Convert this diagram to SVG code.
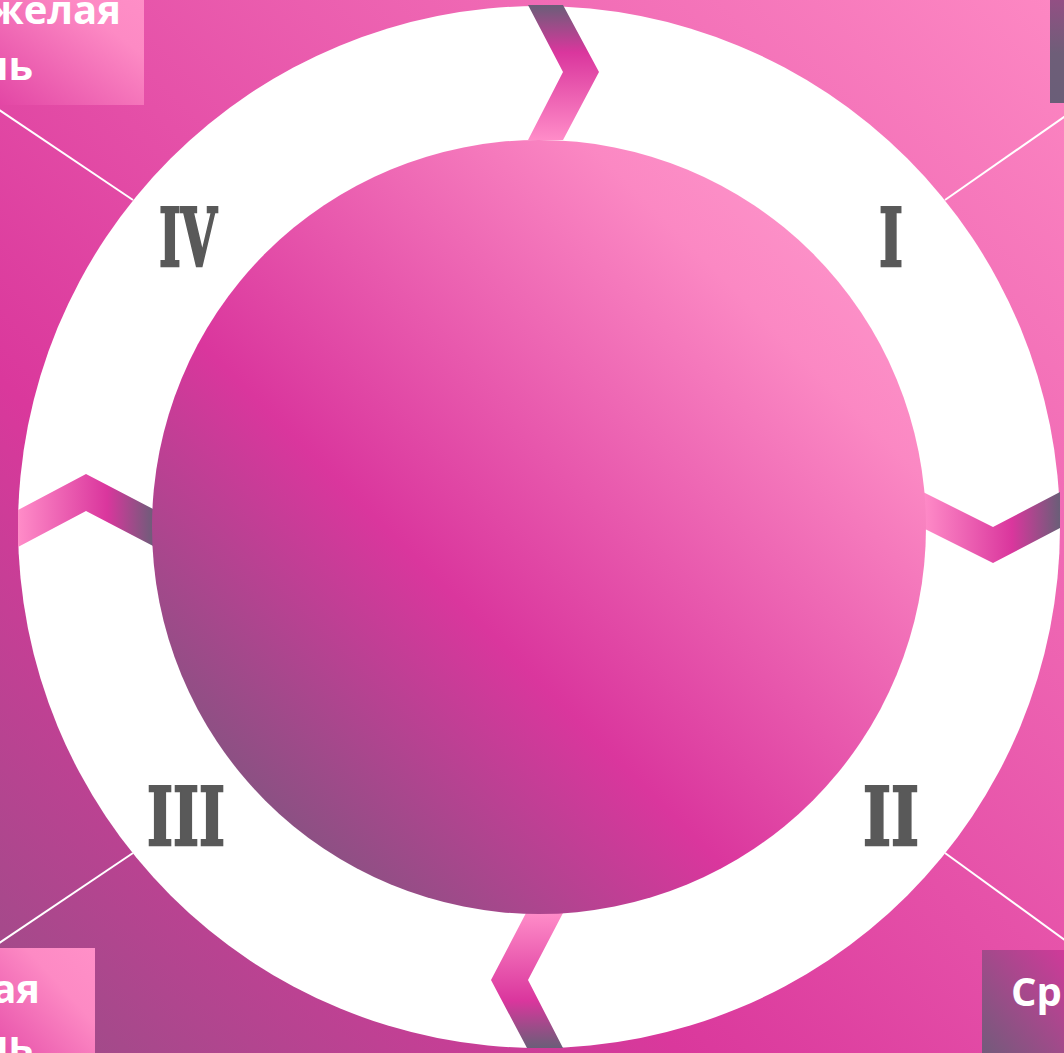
<svg xmlns="http://www.w3.org/2000/svg" width="1064" height="1053" viewBox="0 0 1064 1053">
<defs>
<linearGradient id="bg" x1="1" y1="0" x2="0" y2="1">
<stop offset="0" stop-color="#FD88C3"/>
<stop offset="0.48" stop-color="#E550A8"/>
<stop offset="0.68" stop-color="#DA389C"/>
<stop offset="1" stop-color="#9A4D87"/>
</linearGradient>
<linearGradient id="inner" x1="1" y1="0" x2="0" y2="1">
<stop offset="0" stop-color="#FF9ECF"/>
<stop offset="0.22" stop-color="#FB88C3"/>
<stop offset="0.6" stop-color="#DA369D"/>
<stop offset="1" stop-color="#5E6074"/>
</linearGradient>
<linearGradient id="boxLight" x1="1" y1="0" x2="0" y2="1">
<stop offset="0" stop-color="#FF90C8"/>
<stop offset="0.3" stop-color="#FD8AC4"/>
<stop offset="1" stop-color="#E040A2"/>
</linearGradient>
<linearGradient id="boxDark" x1="1" y1="0" x2="0" y2="1">
<stop offset="0" stop-color="#DA369D"/>
<stop offset="1" stop-color="#6A5E78"/>
</linearGradient>
<linearGradient id="boxTR" x1="0" y1="0" x2="0" y2="1">
<stop offset="0" stop-color="#A04A88"/>
<stop offset="0.6" stop-color="#6E5E78"/>
<stop offset="1" stop-color="#6A5E78"/>
</linearGradient>
<linearGradient id="zTop" x1="0" y1="0" x2="0" y2="1">
<stop offset="0" stop-color="#6A5E78"/>
<stop offset="0.35" stop-color="#DA369D"/>
<stop offset="1" stop-color="#FF8CC8"/>
</linearGradient>
<linearGradient id="zBottom" x1="0" y1="0" x2="0" y2="1">
<stop offset="0" stop-color="#FF8CC8"/>
<stop offset="0.65" stop-color="#DA369D"/>
<stop offset="1" stop-color="#6A5E78"/>
</linearGradient>
<linearGradient id="zSide" x1="0" y1="0" x2="1" y2="0">
<stop offset="0" stop-color="#FF8CC8"/>
<stop offset="0.65" stop-color="#DA369D"/>
<stop offset="1" stop-color="#6A5E78"/>
</linearGradient>
<style>
.num{font-family:"DejaVu Serif","Liberation Serif",serif;font-weight:bold;font-size:80px;fill:#595959;stroke:#595959;stroke-width:2.5;stroke-linejoin:miter;}
.lbl{font-family:"Open Sans","Noto Sans",sans-serif;font-weight:bold;font-size:40px;fill:#FFFFFF;}
.ray{stroke:#FFFFFF;stroke-width:2;fill:none;}
</style>
</defs>
<rect id="background" x="0" y="0" width="1064" height="1053" fill="url(#bg)"/>
<g id="rays">
<line class="ray" x1="133" y1="200" x2="-20" y2="97"/>
<line class="ray" x1="945" y1="200" x2="1084" y2="103"/>
<line class="ray" x1="133" y1="853" x2="-20" y2="956"/>
<line class="ray" x1="945" y1="853" x2="1084" y2="954"/>
</g>
<g id="box-top-left">
<rect x="-20" y="-20" width="164" height="125" fill="url(#boxLight)"/>
<text class="lbl" x="121" y="24" text-anchor="end">желая</text>
<text class="lbl" x="33" y="80" text-anchor="end">нь</text>
</g>
<g id="box-top-right">
<rect x="1050" y="-20" width="40" height="123" fill="url(#boxTR)"/>
</g>
<g id="box-bottom-left">
<rect x="-20" y="948" width="115" height="125" fill="url(#boxLight)"/>
<text class="lbl" x="40" y="1003" text-anchor="end">ая</text>
<text class="lbl" x="33" y="1059" text-anchor="end">нь</text>
</g>
<g id="box-bottom-right">
<rect x="982" y="950" width="102" height="123" fill="url(#boxDark)"/>
<text class="lbl" x="1011" y="1006">Ср</text>
</g>
<g id="ring">
<circle cx="539" cy="527" r="521" fill="#FFFFFF"/>
</g>
<g id="connectors">
<polygon points="528,5 563,5 599,72 563,140 528,140 563,72" fill="url(#zTop)"/>
<polygon points="526,913 563,913 528,980 563,1048 527,1048 491,980" fill="url(#zBottom)"/>
<polygon points="18,510 86,474 155,510 155,547 86,511 18,547" fill="url(#zSide)"/>
<polygon points="923,492 993,527 1060,492 1060,528 993,563 923,528" fill="url(#zSide)"/>
</g>
<g id="center">
<circle cx="539" cy="527" r="387" fill="url(#inner)"/>
</g>
<g id="stage-I"><text class="num" x="879" y="266" textLength="24" lengthAdjust="spacingAndGlyphs">I</text></g>
<g id="stage-II"><text class="num" x="863" y="845" textLength="56" lengthAdjust="spacingAndGlyphs">II</text></g>
<g id="stage-III"><text class="num" x="147" y="845" textLength="78" lengthAdjust="spacingAndGlyphs">III</text></g>
<g id="stage-IV"><text class="num" x="159" y="266" textLength="58" lengthAdjust="spacingAndGlyphs">IV</text></g>
</svg>
